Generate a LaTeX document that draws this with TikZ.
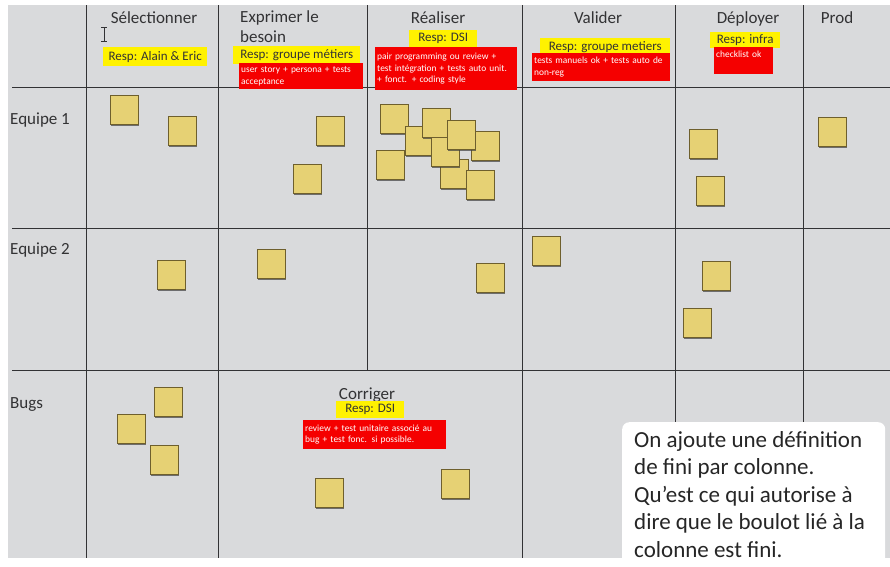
\documentclass[tikz,border=0pt]{standalone}
\usepackage{fontspec}
\setmainfont{Carlito}
\usetikzlibrary{shadows}
\usepackage{xcolor}

\definecolor{board}{RGB}{217,218,220}
\definecolor{ink}{RGB}{50,50,52}
\definecolor{postit}{RGB}{230,209,116}
\definecolor{postitedge}{RGB}{110,95,45}
\definecolor{respyellow}{RGB}{255,242,0}
\definecolor{dodred}{RGB}{245,0,0}

\begin{document}
\begin{tikzpicture}[x=1pt, y=-1pt]

  % styles
  \tikzstyle{colhead} = [anchor=base, inner sep=0, text=ink, font=\fontsize{17}{20}\selectfont]
  \tikzstyle{rowhead} = [anchor=base west, inner sep=0, text=ink, font=\fontsize{17}{20}\selectfont]
  \tikzstyle{resp} = [anchor=north west, fill=respyellow, inner sep=1pt, text=black!80, font=\fontsize{13}{14}\selectfont]
  \tikzstyle{dod} = [anchor=north west, fill=dodred, inner xsep=2pt, inner ysep=1pt, align=left, text=white, font=\fontsize{9.4}{11.5}\selectfont]
  \tikzstyle{postit} = [rectangle, minimum width=28pt, minimum height=29pt, inner sep=0, fill=postit, draw=postitedge, line width=0.5pt, drop shadow={shadow xshift=1.4pt, shadow yshift=-1.4pt, fill=black!75, opacity=0.7}]
  \tikzstyle{gridline} = [draw=ink, line width=1pt]

  % board
  \useasboundingbox (0,0) rectangle (890,566);
  \fill[white] (0,0) rectangle (890,566);
  \fill[board] (8,5) rectangle (890,558);

  % grid
  \draw[gridline] (12,87) -- (890,87);
  \draw[gridline] (12,228) -- (890,228);
  \draw[gridline] (12,370) -- (890,370);
  \draw[gridline] (86,5) -- (86,558);
  \draw[gridline] (218,5) -- (218,558);
  \draw[gridline] (367,5) -- (367,370);
  \draw[gridline] (522,5) -- (522,558);
  \draw[gridline] (675,5) -- (675,558);
  \draw[gridline] (803,5) -- (803,558);

  % column headers
  \node (sel) [colhead] at (154,23) {Sélectionner};
  \node (exp) [colhead, anchor=north west, align=left] at (240,10) {Exprimer le\\besoin};
  \node (rea) [colhead] at (438,23) {Réaliser};
  \node (val) [colhead] at (598,23) {Valider};
  \node (dep) [colhead] at (748,23) {Déployer};
  \node (prod) [colhead] at (837,23) {Prod};

  % row headers
  \node (eq1) [rowhead] at (10,124) {Equipe 1};
  \node (eq2) [rowhead] at (10,254) {Equipe 2};
  \node (bugs) [rowhead] at (10,408) {Bugs};
  \node (cor) [colhead] at (367,399) {Corriger};

  % cursor
  \draw[ink, line width=0.6pt] (101,27) -- (107,27) (104,27) -- (104,41) (101,41) -- (107,41);

  % responsables
  \node (respsel) [resp, minimum width=104pt, minimum height=19pt] at (103,47) {Resp: Alain \& Eric};
  \node (respexp) [resp, minimum width=127pt, minimum height=18pt] at (233,46) {Resp: groupe métiers};
  \node (resprea) [resp, minimum width=68pt, minimum height=17pt] at (409,30) {Resp: DSI};
  \node (respval) [resp, minimum width=130pt, minimum height=17pt] at (540,38) {Resp: groupe metiers};
  \node (respdep) [resp, minimum width=70pt, minimum height=16pt] at (710,32) {Resp: infra};
  \node (respcor) [resp, minimum width=68pt, minimum height=17pt] at (336,401) {Resp: DSI};

  % definitions of done
  \node (dodexp) [dod, text width=120pt, minimum height=26pt] at (239,63) {user story + persona + tests\\acceptance};
  \node (dodrea) [dod, text width=138pt, minimum height=43pt] at (375,47) {pair programming ou review +\\test intégration + tests auto unit.\\+ fonct. + coding style};
  \node (dodval) [dod, text width=134pt, minimum height=28pt] at (532,53) {tests manuels ok + tests auto de\\non-reg};
  \node (doddep) [dod, text width=55pt, minimum height=27pt, text depth=12pt] at (714,47) {checklist ok};
  \node (dodcor) [dod, text width=139pt, minimum height=29pt] at (303,420) {review + test unitaire associé au\\bug + test fonc. si possible.};

  % post-its equipe 1
  \node (p1) [postit] at (124,110) {};
  \node (p2) [postit] at (182,131) {};
  \node (p3) [postit] at (330,131) {};
  \node (p4) [postit] at (307,179) {};
  \node (p5) [postit] at (394,119) {};
  \node (p6) [postit] at (419,141) {};
  \node (p7) [postit] at (436,123) {};
  \node (p8) [postit] at (485,146) {};
  \node (p9) [postit] at (454,174) {};
  \node (p10) [postit] at (445,152) {};
  \node (p11) [postit] at (461,135) {};
  \node (p12) [postit] at (480,185) {};
  \node (p13) [postit] at (390,165) {};
  \node (p14) [postit] at (703,144) {};
  \node (p15) [postit] at (710,191) {};
  \node (p16) [postit] at (832,132) {};

  % post-its equipe 2
  \node (p17) [postit] at (171,275) {};
  \node (p18) [postit] at (271,264) {};
  \node (p19) [postit] at (490,278) {};
  \node (p20) [postit] at (546,251) {};
  \node (p21) [postit] at (716,276) {};
  \node (p22) [postit] at (697,323) {};

  % post-its bugs
  \node (p23) [postit] at (168,402) {};
  \node (p24) [postit] at (131,429) {};
  \node (p25) [postit] at (164,460) {};
  \node (p26) [postit] at (329,493) {};
  \node (p27) [postit] at (455,484) {};

  % note
  \node (note) [anchor=north west, fill=white, rounded corners=7pt, minimum width=263pt, minimum height=144pt] at (622,422) {};
  \node (notetext) [anchor=north west, align=left, inner sep=0, text=black!85, font=\fontsize{23}{27.5}\selectfont] at (634,431) {On ajoute une définition\\de fini par colonne.\\Qu\char39 est ce qui autorise à\\dire que le boulot lié à la\\colonne est fini.};

\end{tikzpicture}
\end{document}
